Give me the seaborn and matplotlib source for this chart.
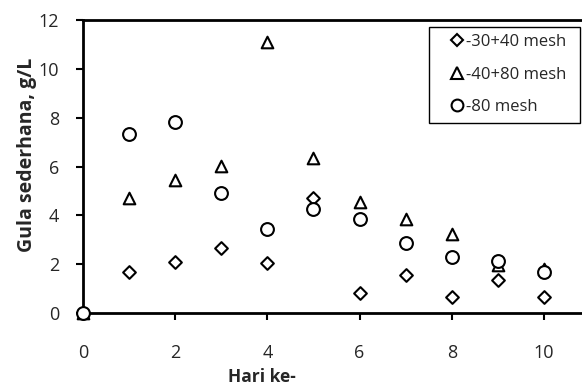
import matplotlib
matplotlib.use("Agg")
import matplotlib.pyplot as plt
import seaborn as sns
import pandas as pd
from matplotlib.lines import Line2D
from matplotlib.patches import Rectangle

days = [0, 1, 2, 3, 4, 5, 6, 7, 8, 9, 10]
s_30_40 = [0, 1.67, 2.10, 2.68, 2.06, 4.70, 0.81, 1.56, 0.66, 1.34, 0.64]
s_40_80 = [0, 4.70, 5.45, 6.04, 11.08, 6.34, 4.56, 3.84, 3.24, 1.98, 1.80]
s_80 = [0, 7.34, 7.84, 4.93, 3.43, 4.26, 3.84, 2.86, 2.31, 2.13, 1.68]
labels = ["-30+40 mesh", "-40+80 mesh", "-80 mesh"]

rows = []
for lab, vals in zip(labels, [s_30_40, s_40_80, s_80]):
    for d, v in zip(days, vals):
        rows.append({"Hari": d, "Gula": v, "Seri": lab})
df = pd.DataFrame(rows)

sns.set_style("white")
plt.rcParams['font.family'] = ['Open Sans', 'DejaVu Sans']

W, H = 582, 385
fig = plt.figure(figsize=(W / 100, H / 100), dpi=100)
left, right, top, bottom = 83, 590, 20, 313
ax = fig.add_axes([left / W, (H - bottom) / H, (right - left) / W, (bottom - top) / H])

markers = {"-30+40 mesh": "D", "-40+80 mesh": "^", "-80 mesh": "o"}
sizes = {"-30+40 mesh": 42, "-40+80 mesh": 70, "-80 mesh": 85}
for lab in labels:
    sub = df[df["Seri"] == lab]
    sns.scatterplot(data=sub, x="Hari", y="Gula", marker=markers[lab], s=sizes[lab],
                    facecolor="white", edgecolor="black", linewidth=1.5, ax=ax,
                    legend=False, zorder=3)

ax.set_xlim(0, 11)
ax.set_ylim(0, 12)
ax.set_xticks([0, 2, 4, 6, 8, 10])
ax.set_yticks([0, 2, 4, 6, 8, 10, 12])
ax.tick_params(axis="both", direction="out", length=5, width=1.5, labelsize=13,
               bottom=True, left=True, color="black")
ax.tick_params(axis="x", pad=17)
ax.tick_params(axis="y", pad=12)
for sp in ["left", "bottom", "top"]:
    ax.spines[sp].set_linewidth(2)
    ax.spines[sp].set_color("black")
ax.spines["right"].set_visible(False)
for c in ax.collections:
    c.set_clip_on(False)

ax.set_xlabel("Hari ke-", fontsize=12.5, fontweight="bold")
ax.set_ylabel("Gula sederhana, g/L", fontsize=14, fontweight="bold")
ax.xaxis.set_label_coords((262 - left) / (right - left), -(368 - bottom) / (bottom - top))
ax.yaxis.set_label_coords(-(83 - 37) / (right - left), (bottom - 155) / (bottom - top))

# legend frame (box only)
fig.add_artist(Rectangle((429 / W, 1 - 123 / H), 151 / W, 96 / H, transform=fig.transFigure,
                         fill=False, lw=1.0, ec="black", zorder=5))
handles = [Line2D([], [], linestyle="none", marker=markers[l], markersize=ms,
                  markerfacecolor="white", markeredgecolor="black", markeredgewidth=1.5)
           for l, ms in zip(labels, [6, 8, 8.5])]
leg = fig.legend(handles, labels, loc="upper left",
                 bbox_to_anchor=(450 / W, 1 - 34 / H), bbox_transform=fig.transFigure,
                 fontsize=12, frameon=False,
                 handlelength=0.8, handletextpad=0.15, borderpad=0, labelspacing=1.0,
                 borderaxespad=0)

fig.savefig("out.png", dpi=100)
